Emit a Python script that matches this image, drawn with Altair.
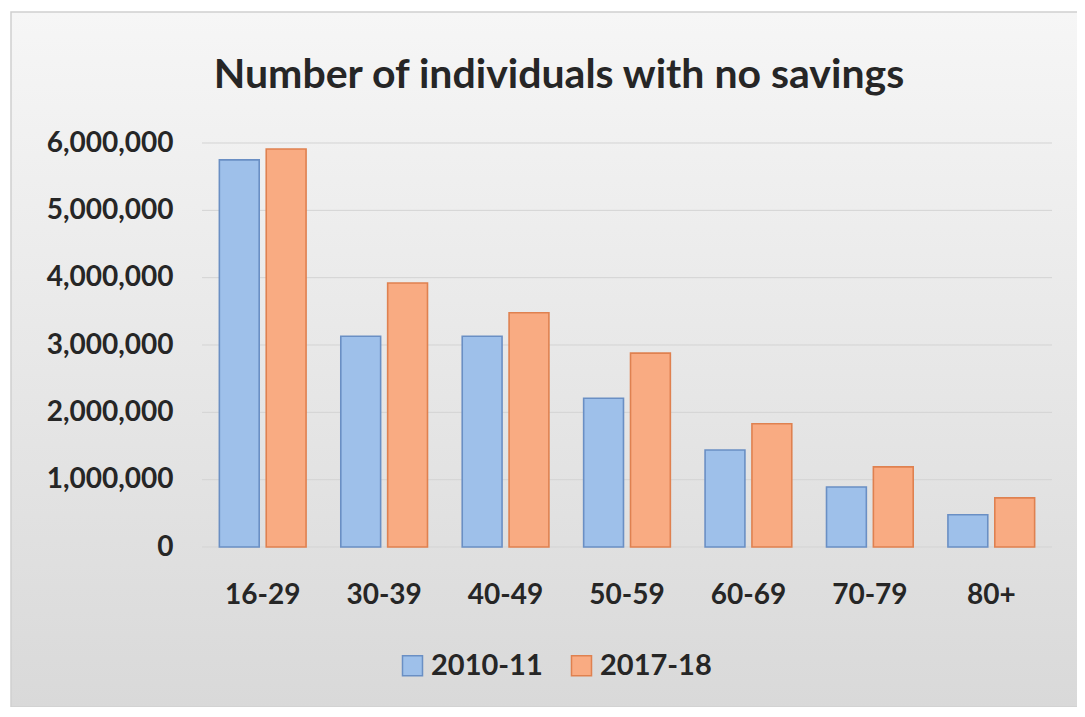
import altair as alt
import pandas as pd

ages = ["16-29", "30-39", "40-49", "50-59", "60-69", "70-79", "80+"]
series = ["2010-11", "2017-18"]
v2010 = [5750000, 3130000, 3130000, 2210000, 1440000, 890000, 480000]
v2017 = [5910000, 3920000, 3480000, 2880000, 1830000, 1190000, 730000]
yticks = [0, 1000000, 2000000, 3000000, 4000000, 5000000, 6000000]

rows = []
for a, b, c in zip(ages, v2010, v2017):
    rows.append({"age": a, "period": series[0], "count": b})
    rows.append({"age": a, "period": series[1], "count": c})
df = pd.DataFrame(rows)
grid_df = pd.DataFrame({"tick": yticks})
one = pd.DataFrame({"k": [0]})

W, H = 850, 404
PL, PT = 194, 135
FONT = "Lato"
TXT = "#262626"

bg = alt.Chart(one).mark_rect(
    fill=alt.Gradient(
        gradient="linear",
        stops=[alt.GradientStop(color="#f6f6f6", offset=0),
               alt.GradientStop(color="#d9d9d9", offset=1)],
        x1=0, x2=0, y1=0, y2=1),
    stroke="#cfcfcf", strokeWidth=1.5, clip=False,
).encode(x=alt.value(-PL + 3), x2=alt.value(W + 32),
         y=alt.value(-PT + 4), y2=alt.value(H + 160))

grid = alt.Chart(grid_df).mark_rule(color="#d3d3d3", strokeWidth=1).encode(
    y=alt.Y("tick:Q", scale=alt.Scale(domain=[0, 6000000]))
)

leg = alt.Legend(title=None, orient="none", direction="horizontal",
                 legendX=196, legendY=508, symbolType="square",
                 symbolSize=400, symbolStrokeWidth=1.5,
                 labelFontSize=29, labelFont=FONT, labelFontWeight="bold",
                 labelColor=TXT, columnPadding=24, labelOffset=4)

bars = alt.Chart(df).mark_bar(strokeWidth=1.6).encode(
    x=alt.X("age:N", sort=ages,
            scale=alt.Scale(paddingInner=0.286, paddingOuter=0.143),
            axis=alt.Axis(title=None, labelAngle=0, labelPadding=34, zindex=2,
                          domain=False, ticks=False)),
    xOffset=alt.XOffset("period:N", sort=series, scale=alt.Scale(paddingInner=0.15)),
    y=alt.Y("count:Q", scale=alt.Scale(domain=[0, 6000000]),
            axis=alt.Axis(values=yticks, format=",d", title=None, grid=False,
                          labelPadding=29, zindex=2, domain=False, ticks=False)),
    color=alt.Color("period:N", sort=series,
                    scale=alt.Scale(domain=series, range=["#9ec0ea", "#f9ab82"]),
                    legend=leg),
    stroke=alt.Stroke("period:N", sort=series,
                      scale=alt.Scale(domain=series, range=["#6a8fc4", "#df8150"]),
                      legend=leg),
)

chart = alt.layer(bg, grid, bars).properties(
    width=W, height=H,
    autosize=alt.AutoSizeParams(type="none"),
    padding={"left": PL, "top": PT, "right": 25, "bottom": 160},
    background="white",
    title=alt.TitleParams("Number of individuals with no savings", font=FONT,
                          fontSize=41, fontWeight="bold", color=TXT,
                          anchor="middle", frame="group", dx=-68, offset=-86),
).configure_axis(
    labelFont=FONT, labelFontSize=28, labelFontWeight="bold", labelColor=TXT,
).configure_view(stroke=None)

chart.save("out.html", embed_options={"renderer": "svg", "actions": False})
